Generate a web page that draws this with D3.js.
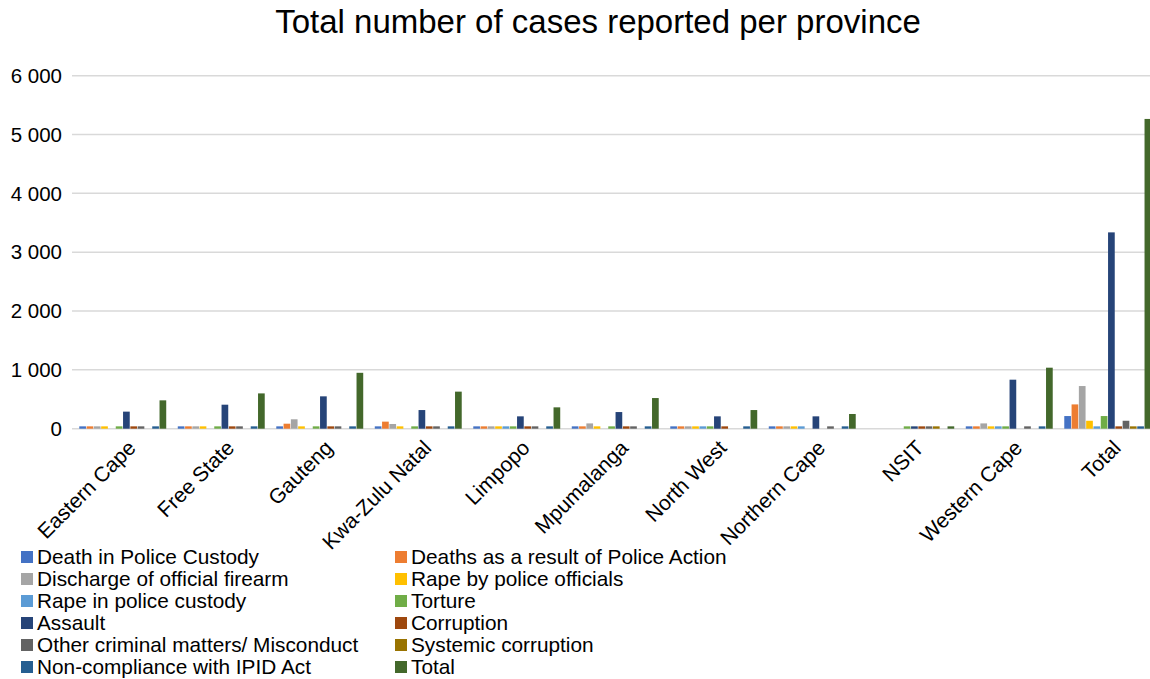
<!DOCTYPE html>
<html>
<head>
<meta charset="utf-8">
<script src="https://cdn.jsdelivr.net/npm/d3@7"></script>
<style>
  html, body { margin: 0; padding: 0; background: #fff; }
  svg { display: block; font-family: "Liberation Sans", Arial, Helvetica, sans-serif; }
</style>
</head>
<body>
<svg id="chart" width="1150" height="679"></svg>
<script>
// Provinces (plus the national total) along the x axis
const categories = ["Eastern Cape", "Free State", "Gauteng", "Kwa-Zulu Natal", "Limpopo",
  "Mpumalanga", "North West", "Northern Cape", "NSIT", "Western Cape", "Total"];

// Case types, in legend order
const seriesNames = ["Death in Police Custody", "Deaths as a result of Police Action",
  "Discharge of official firearm", "Rape by police officials", "Rape in police custody",
  "Torture", "Assault", "Corruption", "Other criminal matters/ Misconduct",
  "Systemic corruption", "Non-compliance with IPID Act", "Total"];

// Cases per case type, one value per province (same order as categories)
const deathInCustody   = [40, 40, 40, 40, 40, 40, 40, 40, 0, 40, 215];
const deathsPoliceAct  = [40, 40, 85, 120, 40, 40, 40, 40, 0, 40, 413];
const dischargeFirearm = [40, 40, 160, 80, 40, 90, 40, 40, 0, 90, 725];
const rapeByPolice     = [40, 40, 40, 40, 40, 40, 40, 40, 0, 40, 135];
const rapeInCustody    = [0, 0, 0, 0, 40, 0, 40, 40, 0, 40, 40];
const torture          = [40, 40, 40, 40, 40, 40, 40, 0, 40, 40, 215];
const assault          = [290, 408, 550, 317, 210, 283, 210, 210, 40, 833, 3337];
const corruption       = [40, 40, 40, 40, 40, 40, 40, 0, 40, 0, 40];
const otherCriminal    = [40, 40, 40, 40, 40, 40, 0, 40, 40, 40, 135];
const systemicCorrupt  = [0, 0, 0, 0, 0, 0, 0, 0, 40, 0, 40];
const nonCompliance    = [40, 40, 40, 40, 40, 40, 40, 40, 0, 40, 40];
const totalCases       = [482, 600, 950, 630, 363, 521, 317, 250, 40, 1037, 5265];

const seriesValues = [deathInCustody, deathsPoliceAct, dischargeFirearm, rapeByPolice,
  rapeInCustody, torture, assault, corruption, otherCriminal, systemicCorrupt,
  nonCompliance, totalCases];

const colors = ["#4472C4", "#ED7D31", "#A5A5A5", "#FFC000", "#5B9BD5", "#70AD47",
  "#264478", "#9E480E", "#636363", "#997300", "#255E91", "#43682B"];

const yTicks = [0, 1000, 2000, 3000, 4000, 5000, 6000];
const yTickLabels = ["0", "1 000", "2 000", "3 000", "4 000", "5 000", "6 000"];

const svg = d3.select("#chart");

// Plot area (the right edge runs slightly past the page, as the last bar touches it)
const plot = { left: 73.5, right: 1157, top: 75.7, bottom: 428.7 };

const x0 = d3.scaleBand()
  .domain(categories)
  .range([plot.left, plot.right])
  .paddingInner(1.5 / 13.5)
  .paddingOuter(0.75 / 13.5);

const x1 = d3.scaleBand()
  .domain(d3.range(seriesNames.length))
  .range([0, x0.bandwidth()])
  .padding(0);

const y = d3.scaleLinear().domain([0, 6000]).range([plot.bottom, plot.top]);

// Title
svg.append("text")
  .attr("x", 598)
  .attr("y", 33)
  .attr("text-anchor", "middle")
  .attr("font-size", 33)
  .attr("fill", "#000")
  .text("Total number of cases reported per province");

// Horizontal gridlines
svg.append("g")
  .selectAll("line")
  .data(yTicks)
  .join("line")
  .attr("x1", 72)
  .attr("x2", 1150)
  .attr("y1", d => y(d))
  .attr("y2", d => y(d))
  .attr("stroke", "#d9d9d9")
  .attr("stroke-width", 1.5);

// Y-axis labels
svg.append("g")
  .selectAll("text")
  .data(yTicks)
  .join("text")
  .attr("x", 62)
  .attr("y", d => y(d))
  .attr("dy", "0.35em")
  .attr("text-anchor", "end")
  .attr("font-size", 20.5)
  .attr("fill", "#000")
  .text((d, i) => yTickLabels[i]);

// Bars
const groups = svg.append("g")
  .selectAll("g")
  .data(categories)
  .join("g")
  .attr("transform", d => `translate(${x0(d)},0)`);

groups.selectAll("rect")
  .data((d, ci) => seriesValues.map((vals, si) => ({ si, v: vals[ci] })))
  .join("rect")
  .attr("x", d => x1(d.si) + 0.3)
  .attr("width", x1.bandwidth() - 0.6)
  .attr("y", d => y(d.v))
  .attr("height", d => y(0) - y(d.v))
  .attr("fill", d => colors[d.si]);

// Category labels, rotated
svg.append("g")
  .selectAll("text")
  .data(categories)
  .join("text")
  .attr("transform", d => `translate(${x0(d) + x0.bandwidth() / 2 + 9},${444}) rotate(-45)`)
  .attr("dy", "0.35em")
  .attr("text-anchor", "end")
  .attr("font-size", 21)
  .attr("fill", "#000")
  .text(d => d);

// Legend: two columns, filled row by row
const legend = svg.append("g")
  .selectAll("g")
  .data(seriesNames)
  .join("g")
  .attr("transform", (d, i) => `translate(${i % 2 === 0 ? 21 : 395},${557 + Math.floor(i / 2) * 22})`);

legend.append("rect")
  .attr("x", 0)
  .attr("y", -6)
  .attr("width", 12)
  .attr("height", 12)
  .attr("fill", (d, i) => colors[i]);

legend.append("text")
  .attr("x", 16)
  .attr("y", 0)
  .attr("dy", "0.35em")
  .attr("font-size", 20.8)
  .attr("fill", "#000")
  .text(d => d);
</script>
</body>
</html>
